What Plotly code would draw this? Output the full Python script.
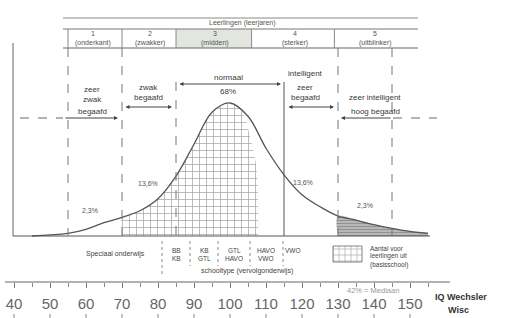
import plotly.graph_objects as go

# ---------------- data ----------------
iq = [45, 50, 55, 60, 65, 70, 75, 80, 85, 90, 95, 100, 105, 110, 115, 120,
      125, 130, 135, 140, 145, 150, 155]
height = [0.0, 0.008, 0.02, 0.05, 0.10, 0.14, 0.19, 0.28, 0.45, 0.69, 0.93,
          1.0, 0.90, 0.66, 0.46, 0.31, 0.22, 0.15, 0.12, 0.085, 0.057, 0.035, 0.02]

# right edge of the gridded (basisschool) region
grid_edge_iq = [103, 106, 107.4, 107.8, 107.8]
grid_edge_h = [0.95, 0.70, 0.50, 0.27, 0.0]

band_edges = [55, 70, 85, 115, 130, 145]
pct_labels = ["2,3%", "13,6%", "13,6%", "2,3%"]
tick_vals = [40, 50, 60, 70, 80, 90, 100, 110, 120, 130, 140, 150]
minor_vals = [45, 55, 65, 75, 85, 95, 105, 115, 125, 135, 145, 155]

col_numbers = ["1", "2", "3", "4", "5"]
col_labels = ["(onderkant)", "(zwakker)", "(midden)", "(sterker)", "(uitblinker)"]
col_edges = [55, 70, 85, 106, 129, 151]

school_top = ["BB", "KB", "GTL", "HAVO", "VWO"]
school_bot = ["KB", "GTL", "HAVO", "VWO", ""]

# ---------------- layout helpers ----------------
W, H = 505, 318
BASE_PX, PEAK_PX = 236, 103
UNIT = BASE_PX - PEAK_PX
FONT = "Liberation Sans"
INK = "#3a3a3a"


def px_x(px):
    return 70 + (px - 122) / 3.6


def py(p):
    return 1 - p / H


fig = go.Figure()

# gridded region 70 .. ~108
gx = [70] + iq[5:12] + grid_edge_iq
gy = [0] + height[5:12] + grid_edge_h
fig.add_trace(go.Scatter(
    x=gx, y=gy, fill="toself", mode="lines", line=dict(width=0, shape="spline"),
    fillcolor="white",
    fillpattern=dict(shape="+", size=7, solidity=0.2, fgcolor="#4a4a4a", bgcolor="white"),
    hoverinfo="skip", showlegend=False))

# shaded right tail 130+
tx = [130] + iq[17:] + [155]
ty = [0] + height[17:] + [0]
fig.add_trace(go.Scatter(
    x=tx, y=ty, fill="toself", mode="lines", line=dict(width=0, shape="spline"),
    fillcolor="#b8b8b8",
    fillpattern=dict(shape="-", size=3, solidity=0.4, fgcolor="#666", bgcolor="#bdbdbd"),
    hoverinfo="skip", showlegend=False))

# the bell curve
fig.add_trace(go.Scatter(
    x=iq, y=height, mode="lines", line=dict(color="#555", width=1.3, shape="spline", smoothing=1.0),
    hoverinfo="skip", showlegend=False))

# legend swatch
lx0, lx1 = px_x(333), px_x(362)
ly0, ly1 = (BASE_PX - 246) / UNIT, (BASE_PX - 262) / UNIT
fig.add_trace(go.Scatter(
    x=[lx0, lx1, lx1, lx0, lx0], y=[ly0, ly0, ly1, ly1, ly0], fill="toself", mode="lines",
    line=dict(width=0.8, color="#666"), fillcolor="white",
    fillpattern=dict(shape="+", size=6, solidity=0.2, fgcolor="#4a4a4a", bgcolor="white"),
    hoverinfo="skip", showlegend=False))

shapes = []


def hline(x0, x1, y, color="#666", width=1, dash="solid", ref="paper"):
    if ref == "paper":
        x0, x1 = x0 / W, x1 / W
    shapes.append(dict(type="line", xref=ref, yref="paper", x0=x0, x1=x1, y0=py(y), y1=py(y),
                       line=dict(color=color, width=width, dash=dash)))


def vline(x, y0, y1, color="#777", width=1, dash="solid", ref="paper"):
    if ref == "paper":
        x = x / W
    shapes.append(dict(type="line", xref=ref, yref="paper", x0=x, x1=x, y0=py(y0), y1=py(y1),
                       line=dict(color=color, width=width, dash=dash)))


# left frame + baseline
vline(13, 43, BASE_PX, color="#666")
hline(13, 430, BASE_PX, color="#555", width=1.2)

# table at the top
shapes.append(dict(type="rect", xref="x", yref="paper", x0=col_edges[2], x1=col_edges[3],
                   y0=py(48), y1=py(29), fillcolor="#e2e6df", line=dict(width=0), layer="below"))
hline(63, 418, 18, color="#888")
hline(63, 418, 29, color="#777")
hline(63, 418, 48, color="#666")
for e in col_edges[:-1]:
    vline(e, 29, 48, ref="x", color="#888")

# vertical band edges
tops = {55: 48, 70: 48, 85: 82, 115: 82, 130: 48, 145: 48}
for v in band_edges:
    vline(v, tops[v], BASE_PX, ref="x", color="#777" if v != 115 else "#555",
          dash="solid" if v == 115 else "dash", width=1)

# dashed horizontal leaders
hline(20, 63, 118, color="#666", dash="dash")
hline(393, 437, 118, color="#666", dash="dash")

# bottom school-type separators
for sx in [162, 190, 218, 250, 283]:
    vline(sx, 241, 266 if sx != 162 else 274, color="#888", dash="dot")

# bottom scale line
hline(5, 450, 282, color="#666", width=1.2)
for v in tick_vals:
    vline(v, 314, 318, ref="x", color="#888")

fig.update_layout(shapes=shapes)

ann = []


def txt(s, x, y, size=8, color=INK, bold=False, xanchor="center", family=FONT):
    if bold:
        s = "<b>" + s + "</b>"
    ann.append(dict(text=s, x=x / W, y=py(y), xref="paper", yref="paper", showarrow=False,
                    font=dict(size=size, color=color, family=family), xanchor=xanchor,
                    yanchor="middle"))


def arrow(xh, y, xt, both=False):
    ann.append(dict(text="", x=xh / W, y=py(y), xref="paper", yref="paper", ax=xt - xh, ay=0,
                    showarrow=True, arrowhead=2, arrowsize=0.8, arrowwidth=1, arrowcolor="#444",
                    arrowside="end+start" if both else "end", standoff=0, startstandoff=0))


# table text
txt("Leerlingen (leerjaren)", 242, 23, size=7, color="#555")
col_px = [93, 150, 215, 295, 375]
for n, lab, cx in zip(col_numbers, col_labels, col_px):
    txt(n, cx, 34, size=7, color="#555")
    txt(lab, cx, 43, size=7, color="#555")

# category labels + arrows
txt("zeer", 92, 90)
txt("zwak", 92, 100)
txt("begaafd", 92, 111)
arrow(118, 118, 64)

txt("zwak", 148, 88)
txt("begaafd", 148, 98)
arrow(172, 107, 124, both=True)

txt("normaal", 228, 77)
txt("68%", 228, 92)
arrow(281, 84, 178, both=True)

txt("intelligent", 305, 74)
txt("zeer", 305, 88)
txt("begaafd", 305, 98)
arrow(334, 107, 287, both=True)

txt("zeer intelligent", 375, 98)
txt("hoog begaafd", 375, 112)
arrow(341, 118, 392)

# percentages
for s, (x, y) in zip(pct_labels, [(90, 210), (148, 183), (303, 182), (365, 205)]):
    txt(s, x, y, size=7, color="#555")

# school types
txt("Speciaal onderwijs", 115, 254, size=7, color="#444")
for t, b, x in zip(school_top, school_bot, [176, 204, 234, 266, 293]):
    txt(t, x, 250, size=6.5, color="#444")
    if b:
        txt(b, x, 258, size=6.5, color="#444")
txt("schooltype (vervolgonderwijs)", 247, 271, size=7, color="#444")

# legend text
txt("Aantal voor", 368, 248, size=6.5, color="#444", xanchor="left")
txt("leerlingen uit", 368, 256, size=6.5, color="#444", xanchor="left")
txt("(basisschool)", 368, 265, size=6.5, color="#444", xanchor="left")

txt("42% = Mediaan", 373, 290, size=7.5, color="#999")
txt("IQ Wechsler", 461, 297, size=9, color="#333", bold=True)
txt("Wisc", 458, 310, size=9, color="#333", bold=True)

fig.update_layout(annotations=ann)

fig.update_layout(
    width=W, height=H, margin=dict(l=0, r=0, t=0, b=0),
    paper_bgcolor="white", plot_bgcolor="white", showlegend=False,
    xaxis=dict(range=[px_x(0), px_x(W)], showgrid=False, zeroline=False, showline=False,
               anchor="free", position=py(282),
               tickmode="array", tickvals=tick_vals, ticktext=[str(v) for v in tick_vals],
               ticks="outside", ticklen=5, tickcolor="#777", tickwidth=1,
               ticklabelstandoff=3,
               tickfont=dict(size=15, color="#666", family="Liberation Sans Narrow, Liberation Sans"),
               minor=dict(tickmode="array", tickvals=minor_vals, ticks="outside", ticklen=4,
                          tickcolor="#888")),
    yaxis=dict(range=[-(H - BASE_PX) / UNIT, BASE_PX / UNIT], visible=False,
               showgrid=False, zeroline=False),
)

fig.write_html("out.html", config={"displayModeBar": False, "staticPlot": True},
               post_script="document.body.style.margin='0';document.body.style.overflow='hidden';")
